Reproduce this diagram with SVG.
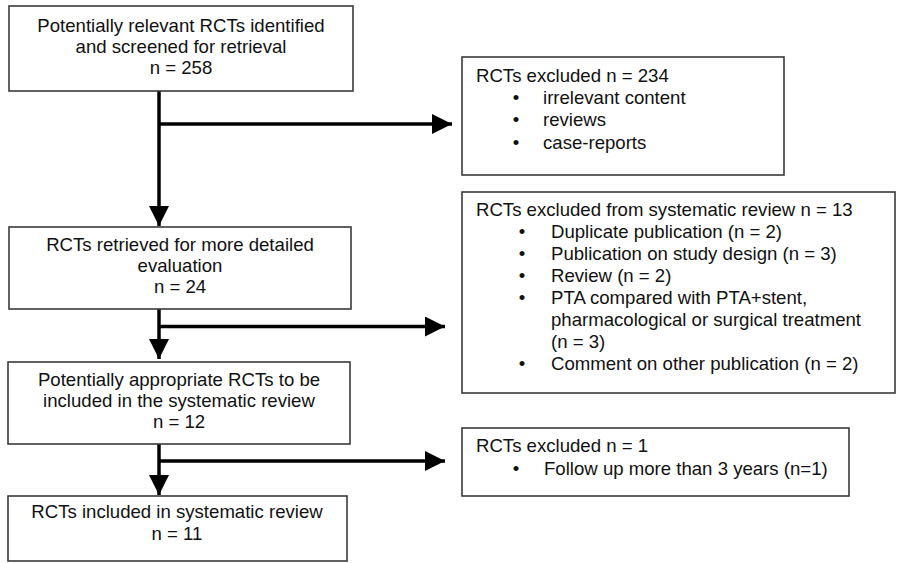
<svg xmlns="http://www.w3.org/2000/svg" width="901" height="563" viewBox="0 0 901 563">
<defs>
<style>
.box{fill:#fff;stroke:#3a3a3a;stroke-width:1.6}
text{font-family:"Liberation Sans",Arial,sans-serif;font-size:18.6px;fill:#111}
.c{text-anchor:middle}
.b{text-anchor:middle}
.ln{stroke:#000;stroke-width:3.5;fill:none}
</style>
<marker id="ah" markerUnits="userSpaceOnUse" markerWidth="20" markerHeight="20" refX="20" refY="10" orient="auto" viewBox="0 0 20 20">
<path d="M0,0 L20,10 L0,20 Z" fill="#000"/>
</marker>
</defs>
<rect width="901" height="563" fill="#fff"/>

<g id="connectors">
<line class="ln" x1="159" y1="91" x2="159" y2="226" marker-end="url(#ah)"/>
<line class="ln" x1="159" y1="124" x2="452" y2="124" marker-end="url(#ah)"/>
<line class="ln" x1="159" y1="309" x2="159" y2="359" marker-end="url(#ah)"/>
<line class="ln" x1="159" y1="326.5" x2="445" y2="326.5" marker-end="url(#ah)"/>
<line class="ln" x1="159" y1="444" x2="159" y2="495" marker-end="url(#ah)"/>
<line class="ln" x1="159" y1="461" x2="445" y2="461" marker-end="url(#ah)"/>
</g>

<g id="n1">
<rect class="box" x="9" y="6" width="344" height="85"/>
<text class="c" x="181" y="31.7">Potentially relevant RCTs identified</text>
<text class="c" x="181" y="53">and screened for retrieval</text>
<text class="c" x="181" y="74">n = 258</text>
</g>

<g id="n2">
<rect class="box" x="462" y="57" width="322" height="118"/>
<text x="476" y="81.7">RCTs excluded n = 234</text>
<text class="b" x="516" y="104">•</text><text x="543" y="104">irrelevant content</text>
<text class="b" x="516" y="126.3">•</text><text x="543" y="126.3">reviews</text>
<text class="b" x="516" y="148.6">•</text><text x="543" y="148.6">case-reports</text>
</g>

<g id="n3">
<rect class="box" x="9" y="227" width="342" height="82"/>
<text class="c" x="180" y="250.7">RCTs retrieved for more detailed</text>
<text class="c" x="180" y="271.7">evaluation</text>
<text class="c" x="180" y="292.7">n = 24</text>
</g>

<g id="n4">
<rect class="box" x="462" y="192" width="433" height="201"/>
<text x="476" y="215.5">RCTs excluded from systematic review n = 13</text>
<text class="b" x="522" y="237.5">•</text><text x="551" y="237.5">Duplicate publication (n = 2)</text>
<text class="b" x="522" y="259.5">•</text><text x="551" y="259.5">Publication on study design (n = 3)</text>
<text class="b" x="522" y="281.5">•</text><text x="551" y="281.5">Review (n = 2)</text>
<text class="b" x="522" y="303.5">•</text><text x="551" y="303.5">PTA compared with PTA+stent,</text>
<text x="551" y="325.5">pharmacological or surgical treatment</text>
<text x="551" y="347.5">(n = 3)</text>
<text class="b" x="522" y="370">•</text><text x="551" y="370">Comment on other publication (n = 2)</text>
</g>

<g id="n5">
<rect class="box" x="8" y="362" width="342" height="82"/>
<text class="c" x="179" y="385.7">Potentially appropriate RCTs to be</text>
<text class="c" x="179" y="406.7">included in the systematic review</text>
<text class="c" x="179" y="428">n = 12</text>
</g>

<g id="n6">
<rect class="box" x="462" y="428" width="387" height="68"/>
<text x="476" y="451.7">RCTs excluded n = 1</text>
<text class="b" x="516" y="475">•</text><text x="544" y="475">Follow up more than 3 years (n=1)</text>
</g>

<g id="n7">
<rect class="box" x="8" y="496" width="339" height="65"/>
<text class="c" x="177" y="518">RCTs included in systematic review</text>
<text class="c" x="177" y="540">n = 11</text>
</g>
</svg>
